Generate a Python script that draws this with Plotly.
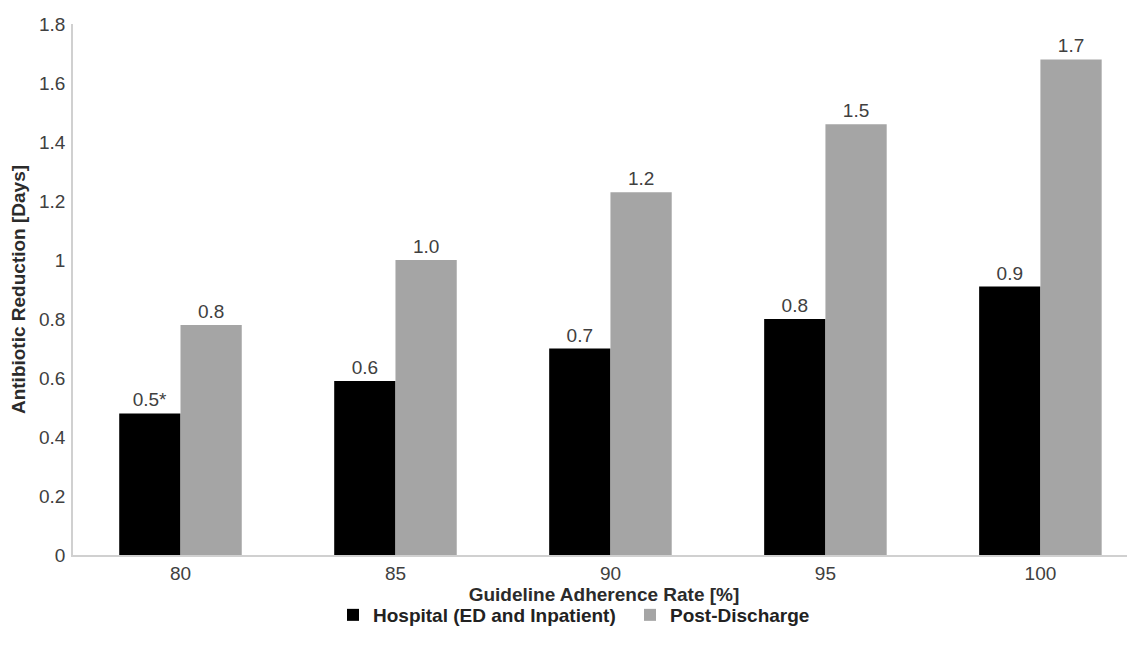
import plotly.graph_objects as go

categories = ["80", "85", "90", "95", "100"]
hospital = [0.48, 0.59, 0.70, 0.80, 0.91]
post_discharge = [0.78, 1.00, 1.23, 1.46, 1.68]
hospital_labels = ["0.5*", "0.6", "0.7", "0.8", "0.9"]
post_labels = ["0.8", "1.0", "1.2", "1.5", "1.7"]
y_ticks = [0, 0.2, 0.4, 0.6, 0.8, 1.0, 1.2, 1.4, 1.6, 1.8]

FONT = "Liberation Sans, Arial, sans-serif"
TXT = "#404040"
TITLE = "#2b2b2b"
W, H = 1127, 637
ML = 65
PLOT_W = W - ML

fig = go.Figure()
fig.add_trace(go.Bar(
    x=categories, y=hospital, name="Hospital (ED and Inpatient)",
    marker=dict(color="#000000", line=dict(width=0)),
    text=hospital_labels, textposition="outside", cliponaxis=False,
    textfont=dict(family=FONT, size=19, color=TXT),
))
fig.add_trace(go.Bar(
    x=categories, y=post_discharge, name="Post-Discharge",
    marker=dict(color="#a5a5a5", line=dict(width=0)),
    text=post_labels, textposition="outside", cliponaxis=False,
    textfont=dict(family=FONT, size=19, color=TXT),
))

fig.update_layout(
    width=W, height=H,
    margin=dict(l=ML, r=0, t=16, b=90),
    paper_bgcolor="white", plot_bgcolor="white",
    barmode="group", bargap=0.43, bargroupgap=0,
    font=dict(family=FONT, size=19, color=TXT),
    showlegend=True,
    legend=dict(
        orientation="h", x=(325 - ML) / PLOT_W, xanchor="left",
        y=-0.113, yanchor="middle",
        font=dict(family=FONT, size=19, color="#222222", weight="bold"),
        itemwidth=30, traceorder="normal",
        entrywidth=252, entrywidthmode="pixels",
    ),
    xaxis=dict(
        type="category", range=[-0.5, 4.44],
        showline=True, linecolor="#d0d0d0", linewidth=1.5,
        ticks="", showgrid=False, zeroline=False,
        tickfont=dict(family=FONT, size=19, color=TXT),
        title=dict(text="Guideline Adherence Rate [%]", standoff=0,
                   font=dict(family=FONT, size=19, color=TITLE, weight="bold")),
    ),
    yaxis=dict(
        range=[0, 1.8], tickvals=y_ticks,
        ticktext=[("%g" % v) for v in y_ticks],
        showline=True, linecolor="#d0d0d0", linewidth=1.5,
        ticks="outside", ticklen=2, tickcolor="rgba(0,0,0,0)", showgrid=False, zeroline=False,
        tickfont=dict(family=FONT, size=19, color=TXT),
        title=dict(text="Antibiotic Reduction [Days]", standoff=9,
                   font=dict(family=FONT, size=19, color=TITLE, weight="bold")),
    ),
)

fig.write_html("out.html")
